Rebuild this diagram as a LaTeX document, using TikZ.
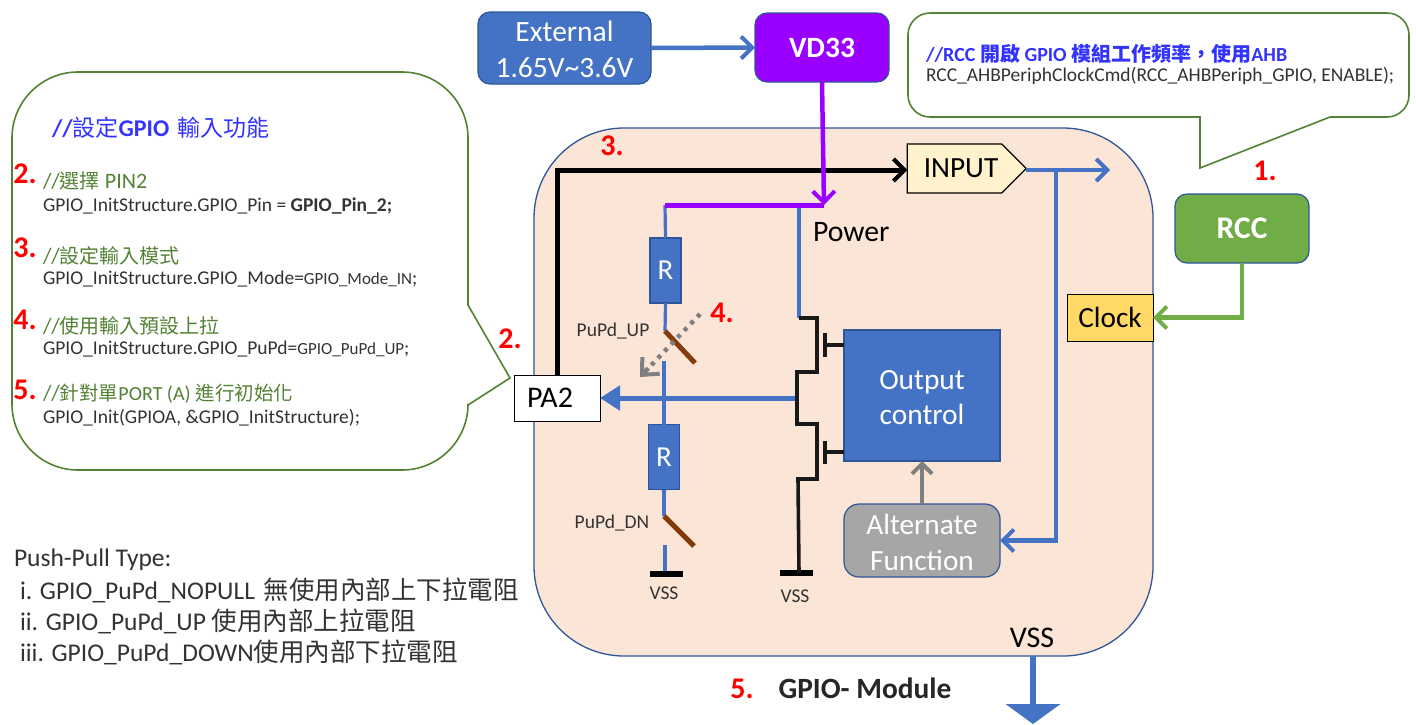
\documentclass[tikz,border=0pt]{standalone}
\usepackage{fontspec}
\setmainfont{Carlito}
\newfontfamily\cjkfam{Noto Sans CJK TC}
\newcommand{\C}[1]{{\cjkfam #1}}
\newcommand{\fs}[1]{\fontsize{#1}{#1}\selectfont}
\newcommand{\CS}[2]{{\cjkfam\mdseries\fs{#1}#2}}
\usetikzlibrary{arrows.meta,shapes.symbols,calc}
\definecolor{modfill}{HTML}{FBE5D6}
\definecolor{modline}{HTML}{2F5597}
\definecolor{bl}{HTML}{4472C4}
\definecolor{vio}{HTML}{9900FF}
\definecolor{grn}{HTML}{70AD47}
\definecolor{callg}{HTML}{548235}
\definecolor{brn}{HTML}{843C0C}
\definecolor{codeg}{HTML}{333333}
\definecolor{tblue}{HTML}{3333FF}
\definecolor{clockc}{HTML}{FFD966}
\definecolor{inputc}{HTML}{FFF2CC}
\definecolor{altc}{HTML}{A6A6A6}
\definecolor{gry}{HTML}{7F7F7F}
\tikzset{
 lbl/.style={inner sep=0,outer sep=0},
 num/.style={lbl,text=red,font=\fs{30}\bfseries},
 cmt/.style={lbl,anchor=west,text=callg,font=\fs{22}},
 code/.style={lbl,anchor=west,text=codeg,font=\fs{19.5}},
 pp/.style={lbl,anchor=west,text=codeg,font=\fs{25.5}},
 small/.style={lbl,text=codeg,font=\fs{19.5}},
 rbox/.style={draw=modline,line width=1.2pt,rounded corners=12pt,text=white,outer sep=0,inner sep=0,align=center},
 sqbox/.style={draw=black,line width=1pt,outer sep=0,inner sep=0},
 res/.style={draw=modline,line width=1.2pt,fill=bl,text=white,outer sep=0,inner sep=0,font=\fs{29},minimum width=31pt,minimum height=65pt},
 wire/.style={bl,line width=3.2pt},
 fet/.style={black!90,line width=3.6pt,line join=miter},
 bar/.style={black,line width=6pt},
 sw/.style={brn,line width=5pt},
 call/.style={draw=callg,line width=1.6pt,fill=white},
 oa/.style={-{Straight Barb[length=11pt,width=22pt,line width=4pt]}},
}
\begin{document}
\begin{tikzpicture}[x=1pt,y=-1pt]
\useasboundingbox[fill=white] (0,0) rectangle (1416,724);
% module
\node[draw=modline,line width=1.3pt,fill=modfill,rounded corners=90pt,minimum width=619pt,minimum height=528pt,outer sep=0,inner sep=0] (module) at (843.5,392) {};
% callouts
\draw[call] (468,405) [rounded corners=66pt] -- (468,470) -- (12,470) -- (12,72) -- (468,72) [sharp corners] -- (468,305) -- (510,378) -- cycle;
\draw[call] (1330,117) [rounded corners=22pt] -- (1409,117) -- (1409,13) -- (908,13) -- (908,117) [sharp corners] -- (1200,117) -- (1200,168) -- cycle;
% boxes
\node[rbox,fill=bl,minimum width=173pt,minimum height=72pt,font=\fs{29.5}] (ext) at (564.5,48) {\rule{0pt}{23pt}External\\[7pt]1.65V\char`\~3.6V};
\node[rbox,fill=vio,minimum width=134pt,minimum height=69pt,font=\fs{29.5}\bfseries] (vd) at (822,47.5) {VD33};
\node[rbox,fill=grn,minimum width=134pt,minimum height=69pt,font=\fs{31.5}\bfseries] (rcc) at (1242,228.5) {RCC};
\node[sqbox,fill=clockc,minimum width=86pt,minimum height=47pt,font=\fs{29.3}] (clock) at (1110,317.5) {Clock};
\node[sqbox,fill=white,minimum width=86pt,minimum height=46pt,font=\fs{30}] (pa) at (557,398) {PA2\hspace*{14pt}};
\node[sqbox,fill=inputc,signal,signal to=east,signal pointer angle=90,minimum width=119pt,minimum height=49pt,font=\fs{29.3},line width=1.3pt] (input) at (954.5,168.5) {\hspace*{13pt}\raisebox{-2pt}{INPUT}};
\node[draw=modline,line width=1.2pt,fill=bl,text=white,outer sep=0,inner sep=0,minimum width=156pt,minimum height=131pt,font=\fs{29.4},align=center] (ctrl) at (922,395.5) {\rule{0pt}{24pt}Output\\[5.5pt]control};
\node[rbox,fill=altc,rounded corners=15pt,minimum width=156pt,minimum height=73pt,font=\fs{29.3}] (alt) at (922,540.5) {\rule{0pt}{24pt}Alternate\\[6pt]Function};
\node[res] (r1) at (665.5,270.5) {R};
\node[res] (r2) at (664,457) {R};
% junctions
\coordinate (pwrL) at (665,205);
\coordinate (pwrR) at (824,205);
\coordinate (pwrM) at (799,205);
\coordinate (sw1a) at (665,331);
\coordinate (sw1b) at (695,363);
\coordinate (sw1c) at (664,361);
\coordinate (sw2a) at (664,516);
\coordinate (sw2b) at (694,546);
\coordinate (sw2c) at (665,545);
\coordinate (g1) at (666.5,574);
\coordinate (g1l) at (650,574);
\coordinate (g1r) at (683,574);
\coordinate (g2) at (799,573);
\coordinate (g2l) at (780,573);
\coordinate (g2r) at (813,573);
\coordinate (fetTop) at (799,318);
\coordinate (fetMid) at (797,398);
\coordinate (paBlk) at (557,375);
\coordinate (br) at (1056,170);
\coordinate (inEnd) at (1110,170);
\coordinate (dotA) at (700,314);
\coordinate (dotB) at (640,377);
% wires
\draw[bl,line width=4.5pt,oa] (ext.east) -- (vd.west);
\draw[line width=5pt,black,-{Straight Barb[length=11pt,width=22pt,line width=4pt]}] (paBlk) |- (input.west |- br);
\draw[wire] (pwrL) -- (r1.north);
\draw[wire] (pwrM) -- (fetTop);
\draw[wire] (r1.south) -- (sw1a);
\draw[wire] (sw1c) -- (r2.north);
\draw[wire] (r2.south) -- (sw2a);
\draw[wire] (sw2c) -- (sw2c |- g1);
\draw[vio,line width=5pt] (pwrL) -- (pwrR);
\draw[vio,line width=4.5pt,oa] (vd.south) -- (pwrR);
\draw[bl,line width=4.5pt,oa] (input.east |- inEnd) -- (inEnd);
\draw[bl,line width=4.5pt,oa] (br) -- (br |- alt.east) -- (alt.east);
\draw[gry,line width=4.5pt,-{Straight Barb[length=10pt,width=20pt,line width=4pt]}] (alt.north) -- (ctrl.south);
\draw[grn,line width=4.5pt,oa] (rcc.south) |- (clock.east);
\draw[bl,line width=5pt,-{Triangle[length=20pt,width=24pt]}] (fetMid) -- (pa.east);
\draw[sw] (sw1a) -- (sw1b);
\draw[sw] (sw2a) -- (sw2b);
\draw[gry,line width=4.5pt,dash pattern=on 4pt off 5.5pt] (dotA) -- ($(dotB)!0.06!(dotA)$);
\draw[gry,line width=4pt,-{Straight Barb[length=13pt,width=24pt,line width=4pt]}] ($(dotB)!0.14!(dotA)$) -- (dotB);
\draw[bar] (g1l) -- (g1r);
\draw[bar] (g2l) -- (g2r);
% transistors
\draw[fet] (fetTop) -- (817,318) -- (817,372) -- (797,372) -- (797,424) -- (817,424) -- (817,479) -- (798,479) -- (g2);
\draw[fet] (825,333) -- (825,357);
\draw[fet] (825,345) -- (ctrl.west |- 825,345);
\draw[fet] (825,441) -- (825,464);
\draw[fet] (825,452) -- (ctrl.west |- 825,452);
\draw[bl,line width=6pt,-{Triangle[length=20pt,width=54pt]}] (1033,656) -- (1033,724);
% labels
\node[lbl,anchor=west,font=\fs{29.7}] (power) at (813,232) {Power};
\node[lbl,font=\fs{30}] (vssBig) at (1032,638) {VSS};
\node[small] (pu) at (613,331) {PuPd\_UP};
\node[small] (pd) at (612,523) {PuPd\_DN};
\node[small] (v1) at (664,593) {VSS};
\node[small] (v2) at (795,596) {VSS};
\node[num] (n1) at (1265,171) {1.};
\node[num] (n2b) at (510,339) {2.};
\node[num] (n3b) at (612,146) {3.};
\node[num] (n4b) at (722,313) {4.};
\node[num] (n5b) at (742,689) {5.};
\node[lbl,font=\fs{29.4}\bfseries,text=black!85] (gm) at (865,688) {GPIO- Module};
% left callout text
\node[lbl,anchor=west,text=tblue,font=\fs{24}\bfseries] (t0) at (52,128) {//\CS{23}{設定}GPIO\hspace{3pt} \CS{23}{輸入功能}};
\node[num] (n2) at (25,174) {2.};
\node[cmt] (c2) at (43,181) {//\CS{20}{選擇} PIN2};
\node[code] (d2) at (43,206) {GPIO\_InitStructure.GPIO\_Pin = \textbf{GPIO\_Pin\_2;}};
\node[num] (n3) at (25,248) {3.};
\node[cmt] (c3) at (43,256) {//\CS{20}{設定輸入模式}};
\node[code] (d3) at (43,279) {GPIO\_InitStructure.GPIO\_Mode={\fs{17}GPIO\_Mode\_IN};};
\node[num] (n4) at (25,320) {4.};
\node[cmt] (c4) at (43,326) {//\CS{20}{使用輸入預設上拉}};
\node[code] (d4) at (43,349) {GPIO\_InitStructure.GPIO\_PuPd={\fs{17}GPIO\_PuPd\_UP};};
\node[num] (n5) at (25,390) {5.};
\node[cmt] (c5) at (43,394) {//\CS{19.5}{針對單}{\fs{20}PORT (A)} \CS{19.5}{進行初始化}};
\node[code] (d5) at (43,418) {GPIO\_Init(GPIOA, \&GPIO\_InitStructure);};
% right callout text
\node[lbl,anchor=west,text=tblue,font=\fs{20}\bfseries] (t1) at (926,54) {//RCC \C{開啟} GPIO \C{模組工作頻率，使用}AHB};
\node[code] (d1) at (926,76) {RCC\_AHBPeriphClockCmd(RCC\_AHBPeriph\_GPIO, ENABLE);};
% push-pull text
\node[pp] (p0) at (14,560) {Push-Pull Type:};
\node[pp] (p1) at (20,590) {i. GPIO\_PuPd\_NOPULL\hspace{3pt} \C{無使用內部上下拉電阻}};
\node[pp] (p2) at (20,621) {ii. GPIO\_PuPd\_UP \C{使用內部上拉電阻}};
\node[pp] (p3) at (20,652) {iii. GPIO\_PuPd\_DOWN\C{使用內部下拉電阻}};
\end{tikzpicture}
\end{document}
